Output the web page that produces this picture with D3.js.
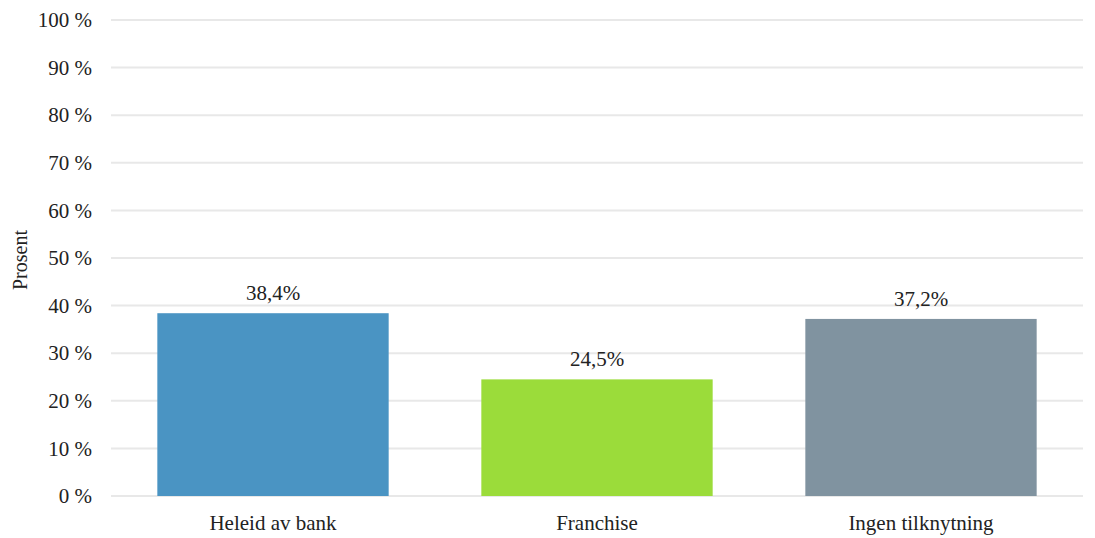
<!DOCTYPE html>
<html><head><meta charset="utf-8">
<script src="https://cdn.jsdelivr.net/npm/d3@7"></script>
<style>body{margin:0;background:#fff;} svg{display:block;}</style>
</head><body>
<svg id="chart" width="1095" height="538"></svg>
<script>
const categories = ["Heleid av bank", "Franchise", "Ingen tilknytning"];
const values = [38.4, 24.5, 37.2];
const valueLabels = ["38,4%", "24,5%", "37,2%"];
const colors = ["#4a94c3", "#9bdc3a", "#8093a0"];
const yTicks = [0, 10, 20, 30, 40, 50, 60, 70, 80, 90, 100];
const yTitle = "Prosent";

(function () {
const svg = d3.select("#chart");
const mLeft = 111, mRight = 1083, mTop = 20, mBottom = 496;
const font = "'Liberation Serif', 'Times New Roman', serif";

const x = d3.scaleBand().domain(categories).range([mLeft, mRight]).paddingInner(0.286).paddingOuter(0.143);
const y = d3.scaleLinear().domain([0, 100]).range([mBottom, mTop]);

// gridlines
svg.append("g").selectAll("line").data(yTicks).join("line")
  .attr("x1", mLeft).attr("x2", mRight)
  .attr("y1", d => y(d)).attr("y2", d => y(d))
  .attr("stroke", "#e8e8e8").attr("stroke-width", 2);

// y tick labels
const yAxis = d3.axisLeft(y).tickValues(yTicks).tickFormat(d => d + " %").tickSize(0).tickPadding(0);
const ya = svg.append("g").attr("transform", "translate(92,0)").call(yAxis);
ya.select(".domain").remove();
ya.selectAll("text").attr("font-family", font).attr("font-size", 21).attr("fill", "#222").attr("dy", "0.32em");

// y title
svg.append("text").attr("transform", "translate(27,260) rotate(-90)")
  .attr("text-anchor", "middle").attr("font-family", font).attr("font-size", 20).attr("fill", "#222")
  .text(yTitle);

// bars
svg.append("g").selectAll("rect").data(categories).join("rect")
  .attr("x", d => x(d)).attr("width", x.bandwidth())
  .attr("y", (d, i) => y(values[i])).attr("height", (d, i) => mBottom - y(values[i]))
  .attr("fill", (d, i) => colors[i]);

// value labels
svg.append("g").selectAll("text").data(categories).join("text")
  .attr("x", d => x(d) + x.bandwidth() / 2)
  .attr("y", (d, i) => y(values[i]) - 13)
  .attr("text-anchor", "middle").attr("font-family", font).attr("font-size", 21).attr("fill", "#222")
  .text((d, i) => valueLabels[i]);

// x labels
const xAxis = d3.axisBottom(x).tickSize(0).tickPadding(0);
const xa = svg.append("g").attr("transform", `translate(0,${mBottom})`).call(xAxis);
xa.select(".domain").remove();
xa.selectAll("text").attr("font-family", font).attr("font-size", 21).attr("fill", "#222").attr("dy", null).attr("y", 34);
})();
</script>
</body></html>
